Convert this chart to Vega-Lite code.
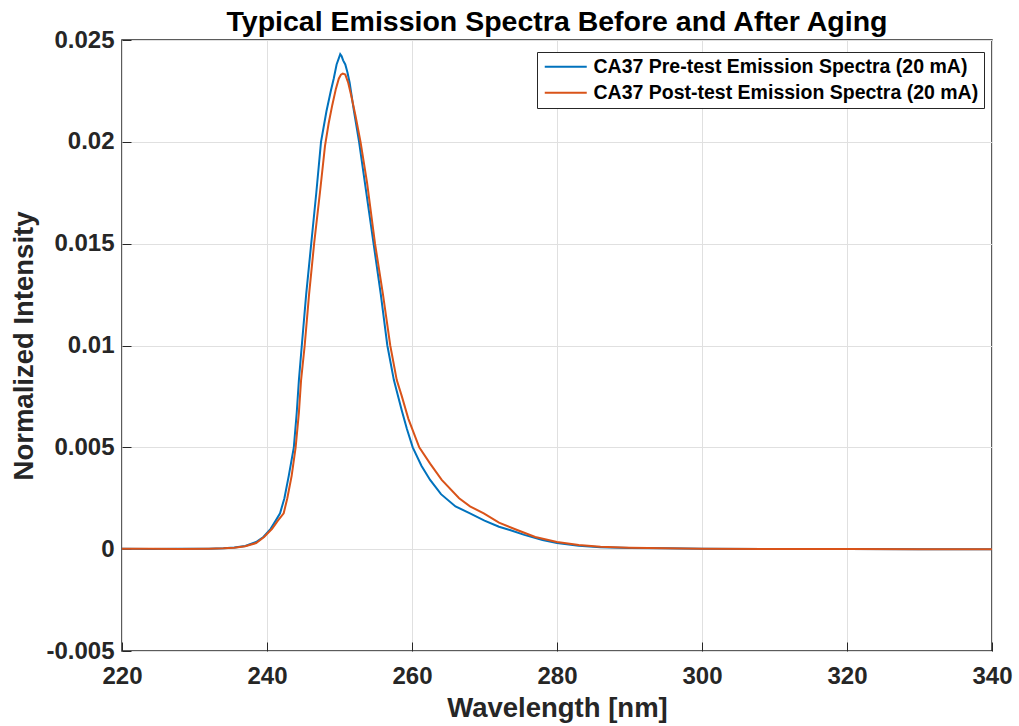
{
  "$schema": "https://vega.github.io/schema/vega-lite/v6.json",
  "autosize": {"type": "none"},
  "width": 870,
  "height": 611,
  "padding": {"left": 122, "top": 40, "right": 27, "bottom": 75},
  "background": "white",
  "title": {"text": "Typical Emission Spectra Before and After Aging", "anchor": "middle", "fontSize": 28.5, "font": "Liberation Sans", "fontWeight": "bold", "color": "#000000", "offset": 6, "dy": 14},
  "config": {
    "font": "Liberation Sans",
    "view": {"stroke": "#262626", "strokeWidth": 1.5},
    "axis": {
      "domain": false,
      "gridColor": "#e0e0e0",
      "gridWidth": 1,
      "tickColor": "#262626",
      "tickSize": -9,
      "tickWidth": 1,
      "labelFlush": false,
      "labelFont": "Liberation Sans",
      "labelFontSize": 24,
      "labelFontWeight": "bold",
      "labelColor": "#262626",
      "titleFont": "Liberation Sans",
      "titleFontSize": 27.5,
      "titleFontWeight": "bold",
      "titleColor": "#262626"
    },
    "legend": {"labelFont": "Liberation Sans"}
  },
  "data": {"values": [
    {"wl": 220, "I": 0.00002, "s": "CA37 Pre-test Emission Spectra (20 mA)"},
    {"wl": 224, "I": 0.00001, "s": "CA37 Pre-test Emission Spectra (20 mA)"},
    {"wl": 228, "I": 0.00002, "s": "CA37 Pre-test Emission Spectra (20 mA)"},
    {"wl": 232, "I": 0.00002, "s": "CA37 Pre-test Emission Spectra (20 mA)"},
    {"wl": 234, "I": 0.00004, "s": "CA37 Pre-test Emission Spectra (20 mA)"},
    {"wl": 235.5, "I": 0.00008, "s": "CA37 Pre-test Emission Spectra (20 mA)"},
    {"wl": 237, "I": 0.00016, "s": "CA37 Pre-test Emission Spectra (20 mA)"},
    {"wl": 238.5, "I": 0.00035, "s": "CA37 Pre-test Emission Spectra (20 mA)"},
    {"wl": 239.5, "I": 0.0006, "s": "CA37 Pre-test Emission Spectra (20 mA)"},
    {"wl": 240.5, "I": 0.001, "s": "CA37 Pre-test Emission Spectra (20 mA)"},
    {"wl": 241.2, "I": 0.0014, "s": "CA37 Pre-test Emission Spectra (20 mA)"},
    {"wl": 241.8, "I": 0.00176, "s": "CA37 Pre-test Emission Spectra (20 mA)"},
    {"wl": 242.4, "I": 0.0025, "s": "CA37 Pre-test Emission Spectra (20 mA)"},
    {"wl": 243.0, "I": 0.0036, "s": "CA37 Pre-test Emission Spectra (20 mA)"},
    {"wl": 243.7, "I": 0.005, "s": "CA37 Pre-test Emission Spectra (20 mA)"},
    {"wl": 244.1, "I": 0.0067, "s": "CA37 Pre-test Emission Spectra (20 mA)"},
    {"wl": 244.4, "I": 0.0083, "s": "CA37 Pre-test Emission Spectra (20 mA)"},
    {"wl": 244.8, "I": 0.01, "s": "CA37 Pre-test Emission Spectra (20 mA)"},
    {"wl": 245.4, "I": 0.0125, "s": "CA37 Pre-test Emission Spectra (20 mA)"},
    {"wl": 246.1, "I": 0.015, "s": "CA37 Pre-test Emission Spectra (20 mA)"},
    {"wl": 246.8, "I": 0.0175, "s": "CA37 Pre-test Emission Spectra (20 mA)"},
    {"wl": 247.45, "I": 0.02, "s": "CA37 Pre-test Emission Spectra (20 mA)"},
    {"wl": 248.2, "I": 0.0215, "s": "CA37 Pre-test Emission Spectra (20 mA)"},
    {"wl": 248.8, "I": 0.0225, "s": "CA37 Pre-test Emission Spectra (20 mA)"},
    {"wl": 249.2, "I": 0.0231, "s": "CA37 Pre-test Emission Spectra (20 mA)"},
    {"wl": 249.6, "I": 0.0238, "s": "CA37 Pre-test Emission Spectra (20 mA)"},
    {"wl": 249.9, "I": 0.0241, "s": "CA37 Pre-test Emission Spectra (20 mA)"},
    {"wl": 250.1, "I": 0.0243, "s": "CA37 Pre-test Emission Spectra (20 mA)"},
    {"wl": 250.3, "I": 0.0242, "s": "CA37 Pre-test Emission Spectra (20 mA)"},
    {"wl": 250.5, "I": 0.024, "s": "CA37 Pre-test Emission Spectra (20 mA)"},
    {"wl": 250.8, "I": 0.0238, "s": "CA37 Pre-test Emission Spectra (20 mA)"},
    {"wl": 251.1, "I": 0.0234, "s": "CA37 Pre-test Emission Spectra (20 mA)"},
    {"wl": 251.4, "I": 0.0229, "s": "CA37 Pre-test Emission Spectra (20 mA)"},
    {"wl": 252.0, "I": 0.0215, "s": "CA37 Pre-test Emission Spectra (20 mA)"},
    {"wl": 252.7, "I": 0.02, "s": "CA37 Pre-test Emission Spectra (20 mA)"},
    {"wl": 253.5, "I": 0.018, "s": "CA37 Pre-test Emission Spectra (20 mA)"},
    {"wl": 254.1, "I": 0.0165, "s": "CA37 Pre-test Emission Spectra (20 mA)"},
    {"wl": 254.7, "I": 0.015, "s": "CA37 Pre-test Emission Spectra (20 mA)"},
    {"wl": 255.7, "I": 0.0125, "s": "CA37 Pre-test Emission Spectra (20 mA)"},
    {"wl": 256.6, "I": 0.01, "s": "CA37 Pre-test Emission Spectra (20 mA)"},
    {"wl": 257.5, "I": 0.0083, "s": "CA37 Pre-test Emission Spectra (20 mA)"},
    {"wl": 258.6, "I": 0.0068, "s": "CA37 Pre-test Emission Spectra (20 mA)"},
    {"wl": 259.3, "I": 0.0059, "s": "CA37 Pre-test Emission Spectra (20 mA)"},
    {"wl": 260.1, "I": 0.005, "s": "CA37 Pre-test Emission Spectra (20 mA)"},
    {"wl": 261.3, "I": 0.0041, "s": "CA37 Pre-test Emission Spectra (20 mA)"},
    {"wl": 262.5, "I": 0.0034, "s": "CA37 Pre-test Emission Spectra (20 mA)"},
    {"wl": 264.0, "I": 0.0027, "s": "CA37 Pre-test Emission Spectra (20 mA)"},
    {"wl": 266.0, "I": 0.0021, "s": "CA37 Pre-test Emission Spectra (20 mA)"},
    {"wl": 268.0, "I": 0.00176, "s": "CA37 Pre-test Emission Spectra (20 mA)"},
    {"wl": 270.0, "I": 0.0014, "s": "CA37 Pre-test Emission Spectra (20 mA)"},
    {"wl": 272.0, "I": 0.0011, "s": "CA37 Pre-test Emission Spectra (20 mA)"},
    {"wl": 273.5, "I": 0.00094, "s": "CA37 Pre-test Emission Spectra (20 mA)"},
    {"wl": 275.5, "I": 0.0007, "s": "CA37 Pre-test Emission Spectra (20 mA)"},
    {"wl": 278.0, "I": 0.00045, "s": "CA37 Pre-test Emission Spectra (20 mA)"},
    {"wl": 280.0, "I": 0.0003, "s": "CA37 Pre-test Emission Spectra (20 mA)"},
    {"wl": 283.0, "I": 0.00017, "s": "CA37 Pre-test Emission Spectra (20 mA)"},
    {"wl": 286.0, "I": 0.0001, "s": "CA37 Pre-test Emission Spectra (20 mA)"},
    {"wl": 290.0, "I": 0.00006, "s": "CA37 Pre-test Emission Spectra (20 mA)"},
    {"wl": 295.0, "I": 0.00004, "s": "CA37 Pre-test Emission Spectra (20 mA)"},
    {"wl": 300.0, "I": 0.00002, "s": "CA37 Pre-test Emission Spectra (20 mA)"},
    {"wl": 310.0, "I": 0.00001, "s": "CA37 Pre-test Emission Spectra (20 mA)"},
    {"wl": 320.0, "I": 0.00001, "s": "CA37 Pre-test Emission Spectra (20 mA)"},
    {"wl": 330.0, "I": 0.0, "s": "CA37 Pre-test Emission Spectra (20 mA)"},
    {"wl": 340.0, "I": 0.0, "s": "CA37 Pre-test Emission Spectra (20 mA)"},
    {"wl": 220, "I": 0.00002, "s": "CA37 Post-test Emission Spectra (20 mA)"},
    {"wl": 224, "I": 0.00002, "s": "CA37 Post-test Emission Spectra (20 mA)"},
    {"wl": 228, "I": 0.00001, "s": "CA37 Post-test Emission Spectra (20 mA)"},
    {"wl": 232, "I": 0.00002, "s": "CA37 Post-test Emission Spectra (20 mA)"},
    {"wl": 234, "I": 0.00004, "s": "CA37 Post-test Emission Spectra (20 mA)"},
    {"wl": 235.5, "I": 0.00007, "s": "CA37 Post-test Emission Spectra (20 mA)"},
    {"wl": 237, "I": 0.00014, "s": "CA37 Post-test Emission Spectra (20 mA)"},
    {"wl": 238.5, "I": 0.0003, "s": "CA37 Post-test Emission Spectra (20 mA)"},
    {"wl": 239.6, "I": 0.0006, "s": "CA37 Post-test Emission Spectra (20 mA)"},
    {"wl": 240.7, "I": 0.001, "s": "CA37 Post-test Emission Spectra (20 mA)"},
    {"wl": 241.5, "I": 0.0014, "s": "CA37 Post-test Emission Spectra (20 mA)"},
    {"wl": 242.3, "I": 0.00176, "s": "CA37 Post-test Emission Spectra (20 mA)"},
    {"wl": 242.8, "I": 0.0025, "s": "CA37 Post-test Emission Spectra (20 mA)"},
    {"wl": 243.4, "I": 0.0036, "s": "CA37 Post-test Emission Spectra (20 mA)"},
    {"wl": 243.95, "I": 0.005, "s": "CA37 Post-test Emission Spectra (20 mA)"},
    {"wl": 244.4, "I": 0.0067, "s": "CA37 Post-test Emission Spectra (20 mA)"},
    {"wl": 244.7, "I": 0.0083, "s": "CA37 Post-test Emission Spectra (20 mA)"},
    {"wl": 245.2, "I": 0.01, "s": "CA37 Post-test Emission Spectra (20 mA)"},
    {"wl": 245.8, "I": 0.0125, "s": "CA37 Post-test Emission Spectra (20 mA)"},
    {"wl": 246.5, "I": 0.015, "s": "CA37 Post-test Emission Spectra (20 mA)"},
    {"wl": 247.3, "I": 0.0175, "s": "CA37 Post-test Emission Spectra (20 mA)"},
    {"wl": 248.0, "I": 0.0198, "s": "CA37 Post-test Emission Spectra (20 mA)"},
    {"wl": 248.5, "I": 0.0209, "s": "CA37 Post-test Emission Spectra (20 mA)"},
    {"wl": 249.0, "I": 0.0218, "s": "CA37 Post-test Emission Spectra (20 mA)"},
    {"wl": 249.5, "I": 0.0226, "s": "CA37 Post-test Emission Spectra (20 mA)"},
    {"wl": 249.9, "I": 0.0231, "s": "CA37 Post-test Emission Spectra (20 mA)"},
    {"wl": 250.2, "I": 0.0233, "s": "CA37 Post-test Emission Spectra (20 mA)"},
    {"wl": 250.45, "I": 0.02335, "s": "CA37 Post-test Emission Spectra (20 mA)"},
    {"wl": 250.8, "I": 0.0233, "s": "CA37 Post-test Emission Spectra (20 mA)"},
    {"wl": 251.2, "I": 0.0229, "s": "CA37 Post-test Emission Spectra (20 mA)"},
    {"wl": 251.6, "I": 0.0223, "s": "CA37 Post-test Emission Spectra (20 mA)"},
    {"wl": 252.2, "I": 0.0213, "s": "CA37 Post-test Emission Spectra (20 mA)"},
    {"wl": 252.9, "I": 0.02, "s": "CA37 Post-test Emission Spectra (20 mA)"},
    {"wl": 253.8, "I": 0.018, "s": "CA37 Post-test Emission Spectra (20 mA)"},
    {"wl": 254.9, "I": 0.015, "s": "CA37 Post-test Emission Spectra (20 mA)"},
    {"wl": 256.0, "I": 0.0125, "s": "CA37 Post-test Emission Spectra (20 mA)"},
    {"wl": 257.0, "I": 0.01, "s": "CA37 Post-test Emission Spectra (20 mA)"},
    {"wl": 257.9, "I": 0.0083, "s": "CA37 Post-test Emission Spectra (20 mA)"},
    {"wl": 258.6, "I": 0.0075, "s": "CA37 Post-test Emission Spectra (20 mA)"},
    {"wl": 259.5, "I": 0.0064, "s": "CA37 Post-test Emission Spectra (20 mA)"},
    {"wl": 261.0, "I": 0.005, "s": "CA37 Post-test Emission Spectra (20 mA)"},
    {"wl": 262.5, "I": 0.0042, "s": "CA37 Post-test Emission Spectra (20 mA)"},
    {"wl": 264.1, "I": 0.0034, "s": "CA37 Post-test Emission Spectra (20 mA)"},
    {"wl": 266.5, "I": 0.0025, "s": "CA37 Post-test Emission Spectra (20 mA)"},
    {"wl": 268.0, "I": 0.0021, "s": "CA37 Post-test Emission Spectra (20 mA)"},
    {"wl": 269.9, "I": 0.00176, "s": "CA37 Post-test Emission Spectra (20 mA)"},
    {"wl": 272.0, "I": 0.0013, "s": "CA37 Post-test Emission Spectra (20 mA)"},
    {"wl": 274.5, "I": 0.00094, "s": "CA37 Post-test Emission Spectra (20 mA)"},
    {"wl": 277.0, "I": 0.0006, "s": "CA37 Post-test Emission Spectra (20 mA)"},
    {"wl": 280.0, "I": 0.00035, "s": "CA37 Post-test Emission Spectra (20 mA)"},
    {"wl": 283.0, "I": 0.0002, "s": "CA37 Post-test Emission Spectra (20 mA)"},
    {"wl": 286.0, "I": 0.00012, "s": "CA37 Post-test Emission Spectra (20 mA)"},
    {"wl": 290.0, "I": 0.00007, "s": "CA37 Post-test Emission Spectra (20 mA)"},
    {"wl": 295.0, "I": 0.00004, "s": "CA37 Post-test Emission Spectra (20 mA)"},
    {"wl": 300.0, "I": 0.00002, "s": "CA37 Post-test Emission Spectra (20 mA)"},
    {"wl": 310.0, "I": 0.00001, "s": "CA37 Post-test Emission Spectra (20 mA)"},
    {"wl": 320.0, "I": 0.00001, "s": "CA37 Post-test Emission Spectra (20 mA)"},
    {"wl": 330.0, "I": 0.0, "s": "CA37 Post-test Emission Spectra (20 mA)"},
    {"wl": 340.0, "I": 0.0, "s": "CA37 Post-test Emission Spectra (20 mA)"}
  ]},
  "mark": {"type": "line", "strokeWidth": 2, "clip": true},
  "encoding": {
    "x": {
      "field": "wl", "type": "quantitative",
      "scale": {"domain": [220, 340], "nice": false, "zero": false},
      "axis": {"title": "Wavelength [nm]", "values": [220, 240, 260, 280, 300, 320, 340], "labelPadding": 22, "titlePadding": 6}
    },
    "y": {
      "field": "I", "type": "quantitative",
      "scale": {"domain": [-0.005, 0.025], "nice": false, "zero": false},
      "axis": {"title": "Normalized Intensity", "values": [-0.005, 0, 0.005, 0.01, 0.015, 0.02, 0.025], "format": "~g", "labelExpr": "replace(datum.label, '\u2212', '-')", "labelPadding": 17, "titlePadding": 7}
    },
    "color": {
      "field": "s", "type": "nominal",
      "scale": {"domain": ["CA37 Pre-test Emission Spectra (20 mA)", "CA37 Post-test Emission Spectra (20 mA)"], "range": ["#0072BD", "#D95319"]},
      "legend": {
        "title": null, "orient": "none", "legendX": 415, "legendY": 12,
        "symbolType": "M-1,0H5", "symbolSize": 196, "symbolStrokeWidth": 2, "symbolFillColor": "transparent",
        "labelFontSize": 19.5, "labelFontWeight": "bold", "labelColor": "#000000",
        "labelOffset": 32, "labelLimit": 600,
        "rowPadding": 5, "padding": 5,
        "strokeColor": "#262626", "fillColor": "white", "cornerRadius": 0
      }
    }
  }
}
